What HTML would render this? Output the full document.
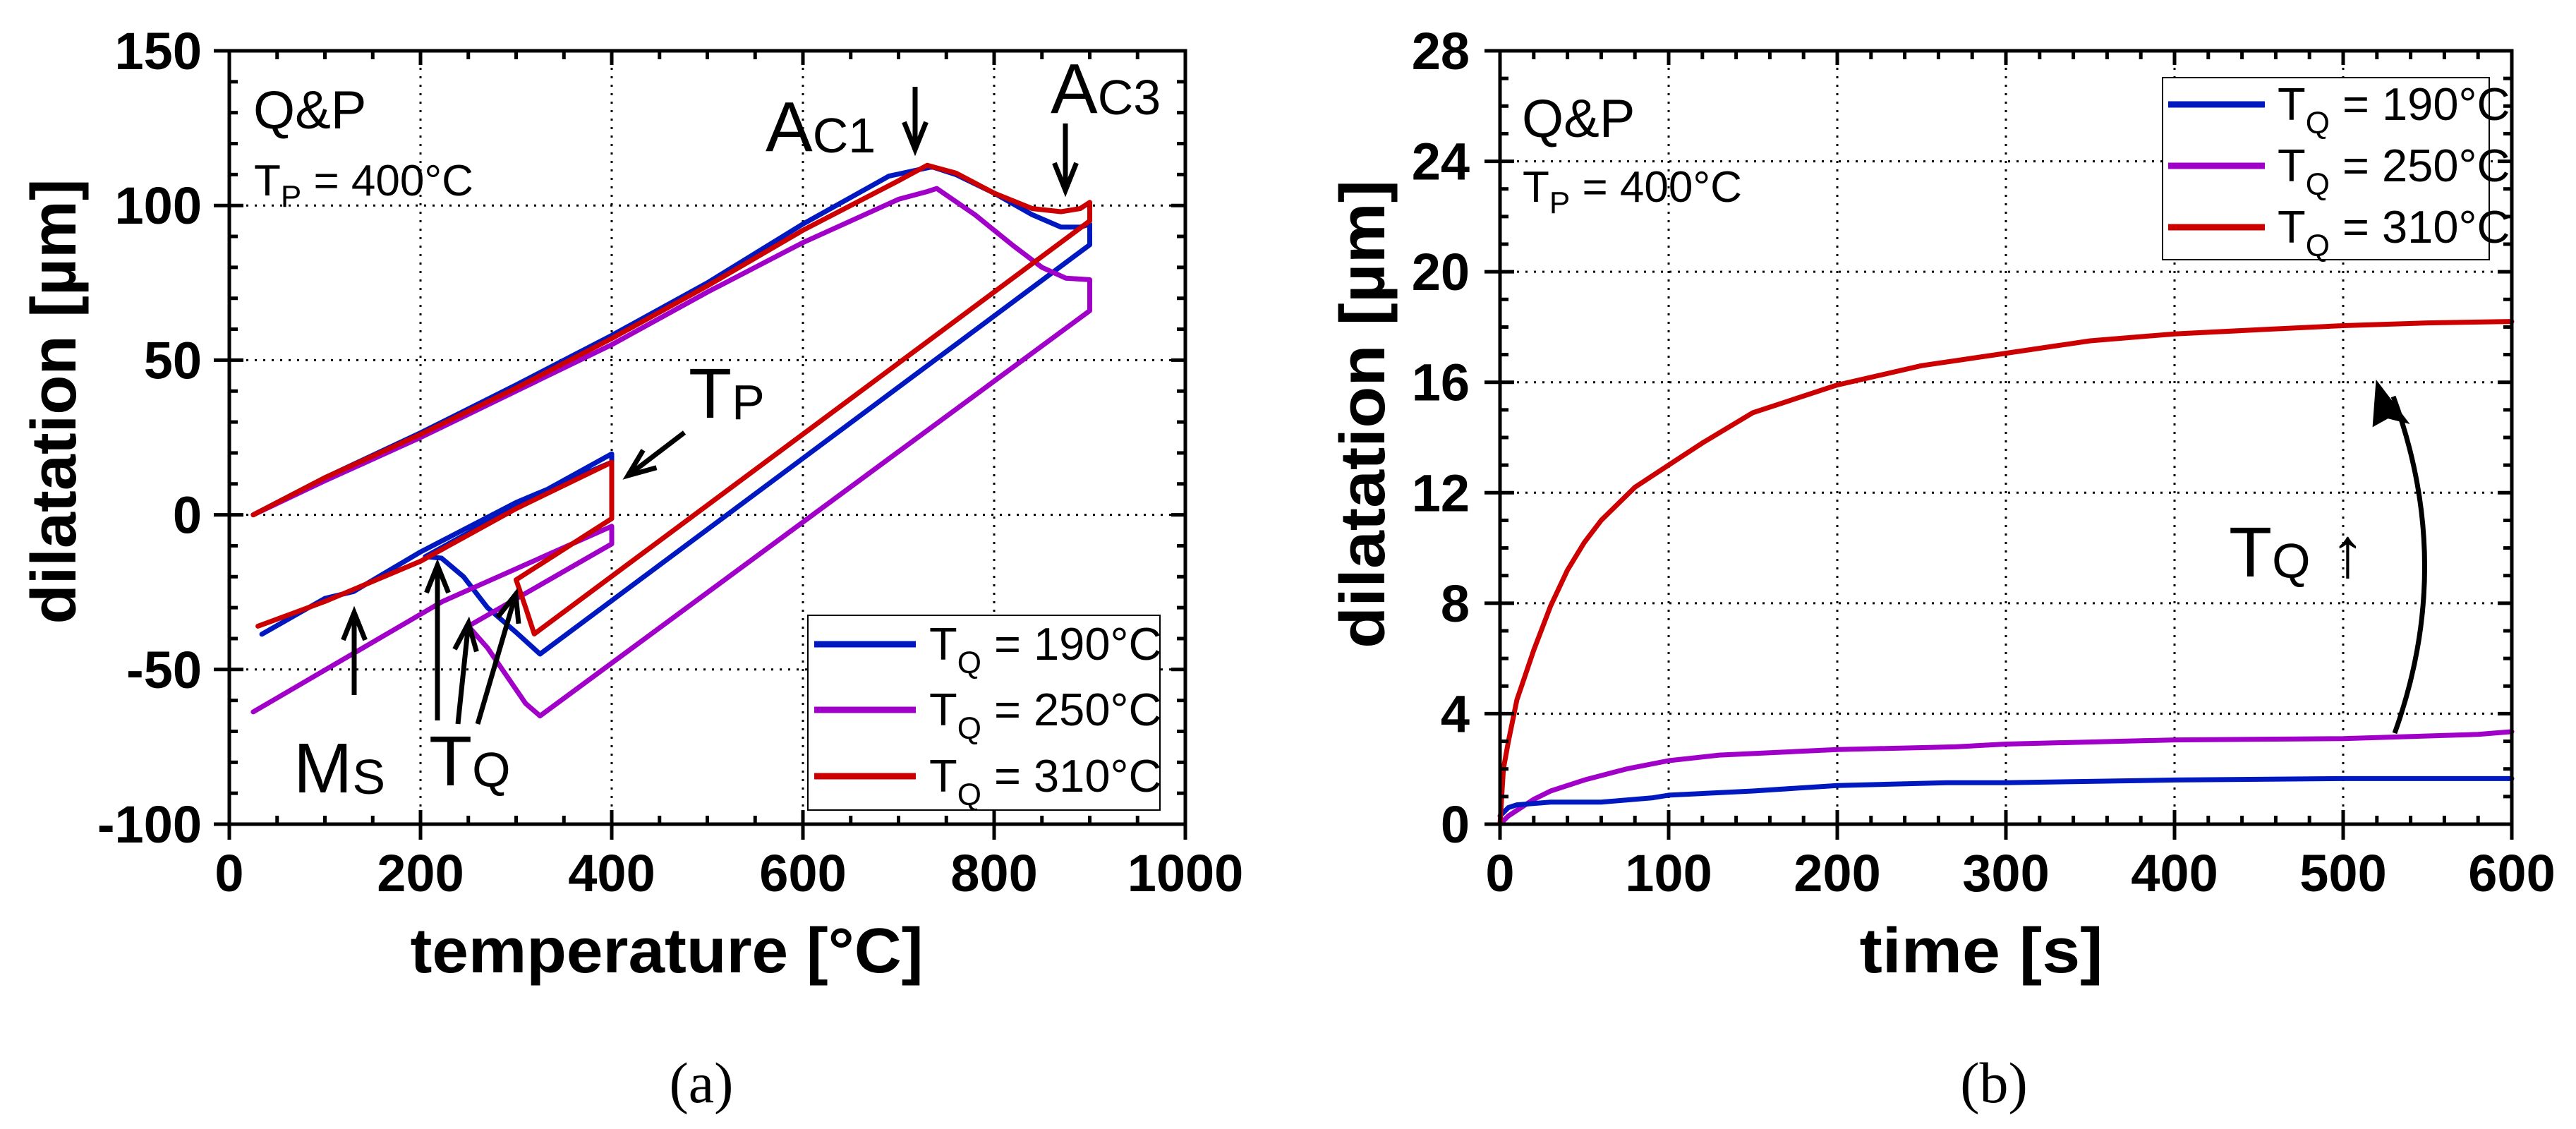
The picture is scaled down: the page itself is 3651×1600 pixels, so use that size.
<!DOCTYPE html>
<html><head><meta charset="utf-8"><style>
html,body{margin:0;padding:0;background:#fff;}
svg{display:block;font-family:"Liberation Sans",Arial,sans-serif;}
</style></head><body>
<svg id="fig" xmlns="http://www.w3.org/2000/svg" width="3651" height="1600" viewBox="0 0 3651 1600">
<rect x="0" y="0" width="3651" height="1600" fill="#fff"/>
</svg>
<script>
// ---------- Chart (a) data: temperature [°C] vs dilatation [µm] ----------
const aXTicks = [0,200,400,600,800,1000];
const aYTicks = [-100,-50,0,50,100,150];
const blueT = [25,100,200,300,400,500,600,690,720,735,760,800,840,870,890,900,900,325,300,270,245,222,205,400,400,300,200,130,100,34];
const blueD = [0,12,26.5,42,58,75,94,109.5,111.5,112.5,110,104,97,93,93,94,87.3,-45,-38,-30,-20,-14,-13.5,19.7,17,4,-12,-24.8,-27,-38.6];
const purpleT = [25,100,200,300,400,500,600,700,730,740,780,820,850,875,900,900,325,310,290,270,250,400,400,223,25];
const purpleD = [0,11,25,40,55,72,88,102,104.5,105.5,97,87,80,76.5,76,66,-65,-61,-52,-43,-36,-9.4,-3.7,-28,-63.7];
const redT = [25,100,200,300,400,500,600,700,730,760,800,840,870,890,900,900,319,310,300,400,400,300,200,100,30];
const redD = [0,12,26,41,57,74,92,108,113,110.5,104,99,98,99,101,95,-38.5,-30,-21,-1.2,17,2,-15,-28,-36];
const aLegend = ["190°C","250°C","310°C"];

// ---------- Chart (b) data: time [s] vs dilatation [µm] ----------
const bXTicks = [0,100,200,300,400,500,600];
const bYTicks = [0,4,8,12,16,20,24,28];
const bRedT = [0,2,5,10,20,30,40,50,60,80,100,120,150,200,250,300,350,400,450,500,550,600];
const bRedD = [0,2,3,4.5,6.3,7.9,9.2,10.2,11,12.2,13,13.8,14.9,15.9,16.6,17.05,17.5,17.75,17.9,18.05,18.15,18.2];
const bPurT = [0,5,10,20,30,50,75,100,130,200,270,300,400,500,580,600];
const bPurD = [0,0.3,0.5,0.9,1.2,1.6,2,2.3,2.5,2.7,2.8,2.9,3.05,3.1,3.25,3.35];
const bBluT = [0,5,10,30,60,90,100,150,200,265,300,400,500,600];
const bBluD = [0.3,0.6,0.7,0.8,0.8,0.95,1.05,1.2,1.4,1.5,1.5,1.6,1.65,1.65];

const NS = "http://www.w3.org/2000/svg";
const svg = document.getElementById("fig");
function mk(tag, attrs, parent){
  const e = document.createElementNS(NS, tag);
  for (const k in attrs) e.setAttribute(k, attrs[k]);
  (parent||svg).appendChild(e);
  return e;
}
const COL = {blue:"#0018c0", purple:"#a000c8", red:"#cc0000"};

function axesFns(L,R,T,B,xmin,xmax,ymin,ymax){
  return {
    x: v => L + (v-xmin)/(xmax-xmin)*(R-L),
    y: v => B - (v-ymin)/(ymax-ymin)*(B-T)
  };
}

function drawFrame(prefix,L,R,T,B,ax,xmin,xmax,ymin,ymax,xTicks,yTicks){
  const g = mk("g",{});
  
  
  xTicks.forEach(v=>{
    if (v===xmin||v===xmax) return;
    const l = mk("line",{x1:ax.x(v),x2:ax.x(v),y1:T,y2:B,stroke:"#000","stroke-width":3,"stroke-dasharray":"3,9"},g);
    
    
  });
  yTicks.forEach(v=>{
    if (v===ymin||v===ymax) return;
    const l = mk("line",{x1:L,x2:R,y1:ax.y(v),y2:ax.y(v),stroke:"#000","stroke-width":3,"stroke-dasharray":"3,9"},g);
    
    
  });
}

function drawAxes(prefix,L,R,T,B,ax,xmin,xmax,xMinor,xMajor,ymin,ymax,yMinor,yMajor,xTicks,yTicks,yLabelRight){
  const g = mk("g",{stroke:"#000","stroke-width":5,fill:"none"});
  
  
  const fr = mk("rect",{x:L,y:T,width:R-L,height:B-T},g);
  
  
  for (let v=xmin; v<=xmax+1e-9; v+=xMinor){
    const major = Math.abs(v/xMajor-Math.round(v/xMajor))<1e-6;
    const x = ax.x(v), li = major?20:12;
    mk("line",{x1:x,x2:x,y1:B-li,y2:B+(major?22:0)},g);
    mk("line",{x1:x,x2:x,y1:T,y2:T+li},g);
  }
  for (let v=ymin; v<=ymax+1e-9; v+=yMinor){
    const major = Math.abs(v/yMajor-Math.round(v/yMajor))<1e-6;
    const y = ax.y(v), li = major?20:12;
    mk("line",{x1:L-(major?22:0),x2:L+li,y1:y,y2:y},g);
    mk("line",{x1:R-li,x2:R,y1:y,y2:y},g);
  }
  xTicks.forEach(v=>{
    const t = mk("text",{x:ax.x(v),y:B+95,"text-anchor":"middle","font-size":74,"font-weight":"bold",fill:"#000",stroke:"none"});
    t.textContent = String(v);
    
    
  });
  yTicks.forEach(v=>{
    const t = mk("text",{x:yLabelRight,y:ax.y(v)+26,"text-anchor":"end","font-size":74,"font-weight":"bold",fill:"#000",stroke:"none"});
    t.textContent = String(v);
    
    
  });
}

function series(prefix,name,xs,ys,ax,color){
  let d = "";
  xs.forEach((v,i)=>{ d += (i?"L":"M") + ax.x(v).toFixed(1) + "," + ax.y(ys[i]).toFixed(1); });
  const p = mk("path",{d:d,fill:"none",stroke:color,"stroke-width":7,"stroke-linejoin":"round","stroke-linecap":"round"});
  
  
}

function text(x,y,size,str,name,opts){
  const t = mk("text",Object.assign({x:x,y:y,"font-size":size,fill:"#000"},opts||{}));
  t.textContent = str;
  
  
  return t;
}
function subText(x,y,size,main,sub,rest,name,subSize,subDy){
  const t = mk("text",{x:x,y:y,"font-size":size,fill:"#000"});
  
  
  const a = mk("tspan",{},t); a.textContent = main;
  const b = mk("tspan",{"font-size":subSize,dy:subDy},t); b.textContent = sub;
  if (rest){ const c = mk("tspan",{dy:-subDy},t); c.textContent = rest; }
  return t;
}
function arrow(x1,y1,x2,y2,name){
  const g = mk("g",{stroke:"#000","stroke-width":7,fill:"none","stroke-linecap":"butt"});
  
  
  mk("line",{x1:x1,y1:y1,x2:x2,y2:y2},g);
  const ang = Math.atan2(y2-y1,x2-x1), h=42, s=0.38;
  const p1=[x2-h*Math.cos(ang-s), y2-h*Math.sin(ang-s)];
  const p2=[x2-h*Math.cos(ang+s), y2-h*Math.sin(ang+s)];
  mk("polyline",{points:p1.join(",")+" "+x2+","+y2+" "+p2.join(",")},g);
}
function legend(prefix,x,y,w,h,lineX1,lineX2,textX,rows){
  const g = mk("g",{});
  
  
  mk("rect",{x:x,y:y,width:w,height:h,fill:"#fff",stroke:"#000","stroke-width":2},g);
  const cols=[COL.blue,COL.purple,COL.red];
  aLegend.forEach((lab,i)=>{
    const yy = rows[i];
    const ln = mk("line",{x1:lineX1,x2:lineX2,y1:yy,y2:yy,stroke:cols[i],"stroke-width":9},g);
    
    
    const t = mk("text",{x:textX,y:yy+22,"font-size":65,fill:"#000"},g);
    
    
    const a = mk("tspan",{},t); a.textContent="T";
    const b = mk("tspan",{"font-size":44,dy:19},t); b.textContent="Q";
    const c = mk("tspan",{dy:-19},t); c.textContent=" = "+lab;
  });
}

// ===== Chart (a) =====
(function(){
  const L=325,R=1680,T=72,B=1168;
  const ax = axesFns(L,R,T,B,0,1000,-100,150);
  drawFrame("chart-a",L,R,T,B,ax,0,1000,-100,150,aXTicks,aYTicks);
  series("chart-a","tq190",blueT,blueD,ax,COL.blue);
  series("chart-a","tq250",purpleT,purpleD,ax,COL.purple);
  series("chart-a","tq310",redT,redD,ax,COL.red);
  legend("chart-a",1145,872,499,276,1154,1298,1317,[913,1006,1100]);
  drawAxes("chart-a",L,R,T,B,ax,0,1000,50,200,-100,150,10,50,aXTicks,aYTicks,286);
  text(359,182,76,"Q&P","chart-a-qp-label");
  subText(360,277,62,"T","P"," = 400°C","chart-a-tp-label",44,16);
  subText(1085,214,100,"A","C1","","chart-a-ac1-label",70,2);
  arrow(1297,123,1297,212,"chart-a-ac1-arrow");
  subText(1489,160,100,"A","C3","","chart-a-ac3-label",70,2);
  arrow(1510,175,1510,270,"chart-a-ac3-arrow");
  subText(976,592,100,"T","P","","chart-a-tp-annotation",70,2);
  arrow(970,613,890,674,"chart-a-tp-arrow");
  subText(416,1123,100,"M","S","","chart-a-ms-label",70,2);
  arrow(502,985,502,868,"chart-a-ms-arrow");
  subText(608,1113,100,"T","Q","","chart-a-tq-label",70,2);
  arrow(620,1021,620,801,"chart-a-tq-arrow-1");
  arrow(649,1026,664,883,"chart-a-tq-arrow-2");
  arrow(677,1026,731,842,"chart-a-tq-arrow-3");
  text(945,1378,90,"temperature [°C]","chart-a-x-axis-title",{"font-weight":"bold","text-anchor":"middle",textLength:727,lengthAdjust:"spacingAndGlyphs"});
  text(0,0,90,"dilatation [µm]","chart-a-y-axis-title",{"font-weight":"bold","text-anchor":"middle",textLength:631,lengthAdjust:"spacingAndGlyphs",transform:"translate(107,569) rotate(-90)"});
  text(994,1562,82,"(a)","chart-a-caption",{"font-family":"Liberation Serif, serif","text-anchor":"middle"});
})();

// ===== Chart (b) =====
(function(){
  const L=2126,R=3560,T=72,B=1168;
  const ax = axesFns(L,R,T,B,0,600,0,28);
  drawFrame("chart-b",L,R,T,B,ax,0,600,0,28,bXTicks,bYTicks);
  series("chart-b","tq250",bPurT,bPurD,ax,COL.purple);
  series("chart-b","tq190",bBluT,bBluD,ax,COL.blue);
  series("chart-b","tq310",bRedT,bRedD,ax,COL.red);
  legend("chart-b",3065,110,463,258,3073,3210,3228,[148,235,322]);
  drawAxes("chart-b",L,R,T,B,ax,0,600,20,100,0,28,1,4,bXTicks,bYTicks,2083);
  text(2157,194,76,"Q&P","chart-b-qp-label");
  subText(2158,286,62,"T","P"," = 400°C","chart-b-tp-label",44,16);
  subText(3159,817,100,"T","Q"," ↑","chart-b-tq-increase-label",70,2);
  const g = mk("g",{stroke:"#000","stroke-width":7,fill:"none"});
  
  
  mk("path",{d:"M3394,1039 Q3480,800 3392,562"},g);
  mk("polygon",{points:"3370,546 3408,596 3384,590 3366,600",fill:"#000",stroke:"#000","stroke-width":6,"stroke-linejoin":"miter"},g);
  text(2808,1378,90,"time [s]","chart-b-x-axis-title",{"font-weight":"bold","text-anchor":"middle",textLength:345,lengthAdjust:"spacingAndGlyphs"});
  text(0,0,90,"dilatation [µm]","chart-b-y-axis-title",{"font-weight":"bold","text-anchor":"middle",textLength:664,lengthAdjust:"spacingAndGlyphs",transform:"translate(1962,587) rotate(-90)"});
  text(2826,1562,82,"(b)","chart-b-caption",{"font-family":"Liberation Serif, serif","text-anchor":"middle"});
})();
</script>
</body></html>
